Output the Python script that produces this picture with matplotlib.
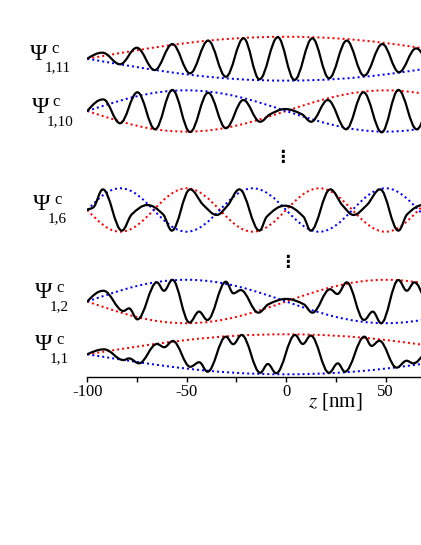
import numpy as np
import matplotlib
matplotlib.use("Agg")
import matplotlib.pyplot as plt
from matplotlib.path import Path
from matplotlib.patches import PathPatch

plt.rcParams["axes.unicode_minus"] = False
plt.rcParams["mathtext.fontset"] = "stix"
plt.rcParams["font.family"] = ["Liberation Serif", "DejaVu Serif"]

# ---------------- data ----------------
# z positions [nm] and normalized amplitudes of the extrema of each black curve
z_11 = [-100, -92.4, -83.5, -75.1, -66.1, -57.2, -48.3, -39.2, -30.3, -21.4, -13.4, -4.2,
        4.2, 13.2, 21.6, 30.5, 39.2, 48.4, 56.8, 65.4, 74.5, 83.5, 92.4, 100]
psi_11 = [0, 0.28, -0.26, 0.51, -0.53, 0.68, -0.68, 0.84, -0.84, 0.95, -0.96, 1.00,
          -0.99, 0.95, -0.91, 0.84, -0.79, 0.68, -0.63, 0.48, -0.50, 0.27, -0.28, 0]

z_10 = [-100, -92, -83.5, -74.8, -65.9, -57.2, -48.3, -39.2, -30.3, -21.5, -13.1, -8, -0.5,
        7.9, 12.6, 21, 30.2, 38.9, 48.1, 56.5, 65.7, 74.8, 83.5, 92, 100]
psi_10 = [0, 0.54, -0.57, 0.87, -0.85, 0.98, -0.98, 0.85, -0.80, 0.51, -0.50, -0.15, 0.09,
          -0.15, -0.50, 0.51, -0.85, 0.87, -0.99, 0.98, -0.85, 0.87, -0.57, 0.54, 0]

z_6 = [-100, -97, -92.2, -82.6, -77.6, -69.8, -61.9, -57.5, -48.3, -41.6, -34.9, -29.5,
       -23.5, -13.4, -9.7, -0.5, 8.7, 12.4, 22.2, 28.5, 33.9, 40.6, 47.3, 56.5, 60.9,
       68.8, 76.6, 81.6, 91.2, 96, 100]
psi_6 = [0, 0.12, 0.96, -0.96, -0.20, 0.23, -0.20, -0.96, 0.96, 0.23, -0.23, 0.20,
         0.96, -0.96, -0.31, 0.20, -0.31, -0.96, 0.96, 0.20, -0.23, 0.23, 0.96, -0.96, -0.20,
         0.23, -0.20, -0.96, 0.96, 0.12, 0]

z_2 = [-100, -91.9, -81.8, -79, -74.8, -65, -61.4, -57.2, -48.6, -43.8, -39.6, -30.3, -26.5,
       -22.8, -13.9, -8.9, 0, 8.9, 13.2, 22.1, 25.8, 30.5, 39.2, 43.6, 47.8, 56.5, 60.7,
       64.5, 74.8, 79, 81.8, 91.9, 100]
psi_2 = [0, 0.50, -0.44, -0.32, -0.83, 0.89, 0.50, 1.01, -0.98, -0.47, -0.86, 0.92, 0.38,
         0.53, -0.52, -0.13, 0.12, -0.13, -0.52, 0.57, 0.35, 0.89, -0.86, -0.47, -1.01, 1.00, 0.50,
         0.89, -0.83, -0.32, -0.44, 0.50, 0]

z_1 = [-100, -91.5, -81.8, -79, -74, -65, -61.3, -57, -48.2, -43.7, -39.5, -30.3, -26.6,
       -22.4, -13, -9.2, -5, 4.5, 8.4, 12.4, 21.6, 26, 29.6, 39.4, 43, 46.9, 55.6, 60.6,
       64, 74, 79, 81.8, 91.5, 100]
psi_1 = [0, 0.23, -0.27, -0.19, -0.42, 0.48, 0.33, 0.62, -0.58, -0.37, -0.81, 0.82, 0.47,
         0.90, -0.86, -0.45, -0.88, 0.90, 0.48, 0.87, -0.86, -0.42, -0.81, 0.82, 0.39, 0.63,
         -0.62, -0.30, -0.42, 0.42, 0.19, 0.27, -0.23, 0]

# envelope (red dotted curve; the blue dotted curve is its mirror image)
envz_11 = [-100, 0, 100]
env_11 = [0, 1.02, 0]
envz_10 = [-100, -50, 50, 100]
env_10 = [0, -0.96, 0.96, 0]
envz_6 = [-100, -83.3, -50, -16.7, 16.7, 50, 83.3, 100]
env_6 = [0, -1.01, 1.01, -1.01, 1.01, -1.01, 1.01, 0]
envz_2 = [-100, -50, 50, 100]
env_2 = [0, -1.01, 1.01, 0]
envz_1 = [-100, 0, 100]
env_1 = [0, 0.93, 0]

labels = ["1,11", "1,10", "1,6", "1,2", "1,1"]
xticks = [-100, -50, 0, 50]
xticks_minor = [-75, -25, 25, 75]

# ---------------- layout ----------------
W, H = 421, 545
PX = 21.5            # pixels per unit amplitude
AX_BOTTOM = 376.5    # pixel row of the z axis
AX_TOP = 20.0
centers_px = [58.7, 111.0, 210.0, 301.5, 354.3]
label_px = [(30, 59.5), (31.5, 113), (33, 210), (35, 298.5), (35, 350.5)]
CTRL = 0.367         # Bezier handle length (fraction of segment)


def smooth_path(x, y, dy):
    """Cubic Hermite path through the given points (drawn by matplotlib as Bezier)."""
    x = np.asarray(x, float)
    y = np.asarray(y, float) + dy
    n = len(x)
    h = np.diff(x)
    s = np.diff(y) / h
    d = np.zeros(n)
    for i in range(1, n - 1):
        if s[i - 1] * s[i] > 0:
            w1 = 2 * h[i] + h[i - 1]
            w2 = h[i] + 2 * h[i - 1]
            d[i] = (w1 + w2) / (w1 / s[i - 1] + w2 / s[i])
    d[0] = np.pi / 2 * s[0]
    d[-1] = np.pi / 2 * s[-1]
    verts = [(x[0], y[0])]
    codes = [Path.MOVETO]
    for i in range(n - 1):
        c = CTRL * h[i]
        verts += [(x[i] + c, y[i] + d[i] * c),
                  (x[i + 1] - c, y[i + 1] - d[i + 1] * c),
                  (x[i + 1], y[i + 1])]
        codes += [Path.CURVE4] * 3
    return Path(verts, codes)


fig = plt.figure(figsize=(W / 100, H / 100), dpi=100)
ax = fig.add_axes([87.3 / W, (H - AX_BOTTOM) / H, 397.6 / W, (AX_BOTTOM - AX_TOP) / H])
ax.set_xlim(-100, 100)
ax.set_ylim(0, (AX_BOTTOM - AX_TOP) / PX)

curves = [(z_11, psi_11, envz_11, env_11), (z_10, psi_10, envz_10, env_10),
          (z_6, psi_6, envz_6, env_6), (z_2, psi_2, envz_2, env_2),
          (z_1, psi_1, envz_1, env_1)]

dots = (0, (1.0, 1.5))
for (zz, pp, ez, ev), cpx in zip(curves, centers_px):
    off = (AX_BOTTOM - cpx) / PX
    ax.add_patch(PathPatch(smooth_path(ez, ev, off), fill=False, edgecolor="#ff0000",
                           lw=1.45, linestyle=dots, zorder=2))
    ax.add_patch(PathPatch(smooth_path(ez, -np.asarray(ev), off), fill=False,
                           edgecolor="#0000ff", lw=1.45, linestyle=dots, zorder=2))
    ax.add_patch(PathPatch(smooth_path(zz, pp, off), fill=False, edgecolor="black",
                           lw=1.6, zorder=3, capstyle="round", joinstyle="round"))

for s in ["left", "right", "top"]:
    ax.spines[s].set_visible(False)
ax.spines["bottom"].set_linewidth(1.0)
ax.set_yticks([])
ax.set_xticks(xticks)
ax.set_xticks(xticks_minor, minor=True)
ax.tick_params(axis="x", which="both", direction="out", length=3.6, width=1.0,
               labelsize=12, pad=2)
ax.set_xticklabels([str(t) for t in xticks])

# labels Psi^c_{n}
for lab, (lx, ly) in zip(labels, label_px):
    fig.text(lx / W, 1 - ly / H, "\u03a8", fontsize=17, ha="left", va="baseline")
    fig.text((lx + 21) / W, 1 - (ly - 6.5) / H, "c", fontsize=12, ha="left", va="baseline")
    fig.text((lx + 15) / W, 1 - (ly + 12) / H, lab, fontsize=11, ha="left",
             va="baseline")

# vertical ellipses
fig.text(282 / W, 1 - 157 / H, "\u22ee", fontsize=12, ha="center", va="center",
         family=["DejaVu Sans"], fontweight="bold")
fig.text(287 / W, 1 - 262.5 / H, "\u22ee", fontsize=12, ha="center", va="center",
         family=["DejaVu Sans"], fontweight="bold")

fig.text(308 / W, 1 - 406.7 / H, r"$z$ [nm]", fontsize=15, ha="left", va="baseline")

fig.savefig("out.png", dpi=100)
